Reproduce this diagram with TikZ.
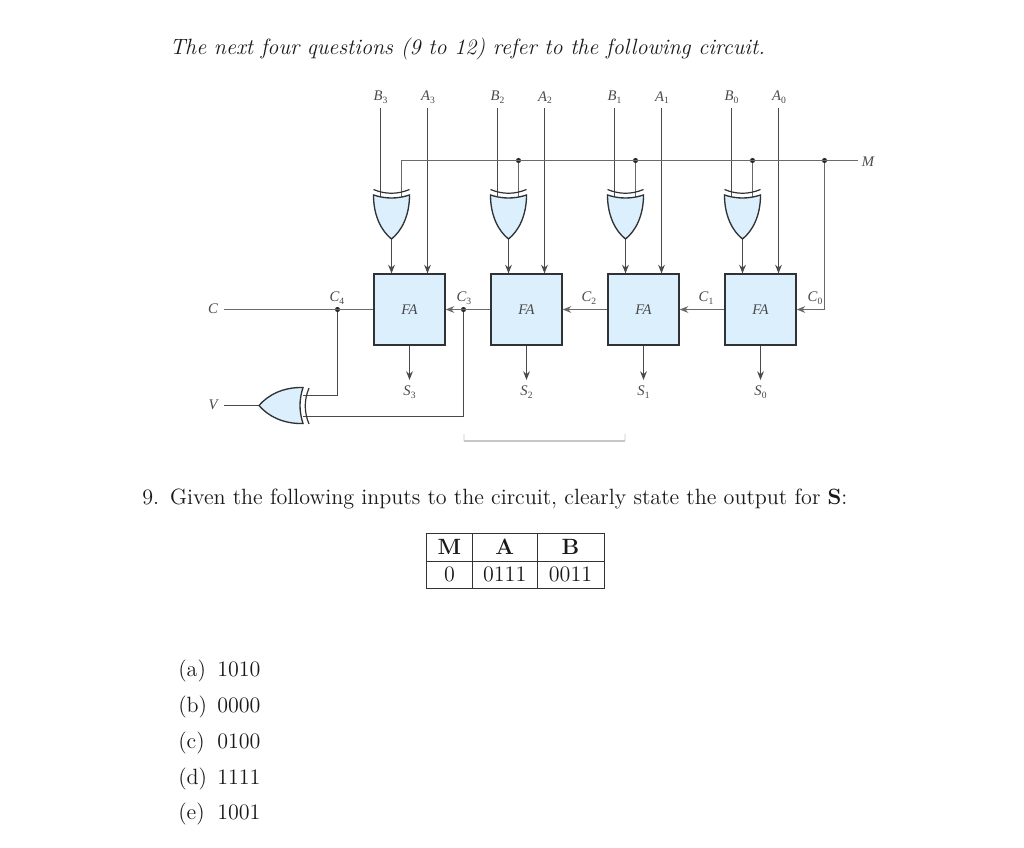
\documentclass[tikz,border=0pt]{standalone}
\usepackage{fontspec}
\usepackage{graphicx}
\usetikzlibrary{arrows.meta,calc}
\newfontfamily\cktfont{Liberation Serif}
\newcommand{\sgl}[2]{{\cktfont\itshape #1}\raisebox{-2pt}{\fontsize{7.2}{8}\selectfont\cktfont #2}}
\newcommand{\bigtext}[1]{\scalebox{1.38}{\fontsize{12}{14}\selectfont #1}}
\newcommand{\lbl}[2]{\bigtext{\makebox[21.2pt][l]{#1}#2}}
\definecolor{gatefill}{HTML}{DCEFFC}
\definecolor{inkdark}{HTML}{2F3336}
\definecolor{wire}{HTML}{4A4A4A}
\definecolor{busline}{HTML}{6A6A6A}
\tikzset{
  wireline/.style={draw=wire,line width=0.85pt},
  busw/.style={draw=busline,line width=1pt},
  arrowtip/.style={-{Stealth[length=6.5pt,width=5pt]}},
  arroww/.style={wireline,arrowtip},
  gatebody/.style={draw=inkdark,fill=gatefill,line width=1pt},
  shield/.style={draw=inkdark,line width=0.9pt},
  fabox/.style={draw=inkdark,fill=gatefill,line width=1.1pt,minimum size=53pt,inner sep=0pt,font=\cktfont\itshape\fontsize{11}{12}\selectfont,text=wire},
  cktlabel/.style={inner sep=0pt,text=wire,font=\fontsize{11}{12}\selectfont},
  jdot/.style={circle,fill=black!85,inner sep=0pt,minimum size=3.8pt},
  bodytext/.style={inner sep=0pt,anchor=base west,text=black!90},
  tablecell/.style={inner sep=0pt,anchor=base,text=black!90},
  tableline/.style={draw=black!80,line width=0.6pt}
}
\begin{document}
\begin{tikzpicture}[x=0.75pt,y=-0.75pt]
\useasboundingbox (0,0) rectangle (1024,847);
\fill[white] (0,0) rectangle (1024,847);

% bus M
\coordinate (mleft) at (401.5,160.5);
\coordinate (mright) at (858,160.5);
\node[cktlabel] (mlabel) at (868,162) {\cktfont\itshape M};

\foreach \i in {3,2,1,0}{
  \pgfmathsetmacro\cx{391.5+117*(3-\i)}
  \coordinate (g\i) at (\cx,0);
  \node[fabox] (fa\i) at (\cx+18,309.5) {FA};
  \coordinate (bt\i) at (\cx-11,108);
  \coordinate (at\i) at (\cx+36,108);
  \coordinate (bb\i) at (\cx-11,198);
  \coordinate (mb\i) at (\cx+10,198);
  \coordinate (gout\i) at (\cx,239);
  \coordinate (stip\i) at (\cx+18,380);
  \node[cktlabel] (blab\i) at (\cx-11,97.5) {\sgl{B}{\i}};
  \node[cktlabel] (alab\i) at (\cx+36.5,97.5) {\sgl{A}{\i}};
  \node[cktlabel] (slab\i) at (\cx+18,392) {\sgl{S}{\i}};
  \draw[wireline] (bt\i) -- (bb\i);
  \draw[arroww] (at\i) -- (at\i |- fa\i.north);
  \draw[arroww] (gout\i) -- (gout\i |- fa\i.north);
  \draw[arroww] (fa\i.south) -- (stip\i);
}
\node[jdot] (d2) at (mb2 |- mleft) {};
\node[jdot] (d1) at (mb1 |- mleft) {};
\node[jdot] (d0) at (mb0 |- mleft) {};
\node[jdot] (dc) at (824.5,160.5) {};
\draw[busw] (mb3) -- (mleft) -- (mright);
\draw[busw] (d2) -- (mb2);
\draw[busw] (d1) -- (mb1);
\draw[busw] (d0) -- (mb0);

% vertical XOR gates drawn on top of their wires
\foreach \i in {3,2,1,0}{
  \begin{scope}[shift={(g\i)}]
    \draw[shield] (-18,189.5) .. controls (-6,194.5) and (6,194.5) .. (18,189.5);
    \draw[gatebody] (-18,195) .. controls (-6,199) and (6,199) .. (18,195)
       .. controls (18,216) and (10,231) .. (0,239)
       .. controls (-10,231) and (-18,216) .. (-18,195) -- cycle;
  \end{scope}
}

% carries
\node[jdot] (c4dot) at (337.5,309.5) {};
\node[jdot] (c3dot) at (463.5,309.5) {};
\coordinate (cstart) at (224,309.5);
\coordinate (vstart) at (224,405.5);
\coordinate (xorin1) at (303,395.5);
\coordinate (xorin2) at (303,416.5);
\coordinate (xortip) at (259,405.5);
\coordinate (c0corner) at (dc |- fa0.east);
\node[cktlabel] (clab) at (213,309) {\cktfont\itshape C};
\node[cktlabel] (vlab) at (213,405) {\cktfont\itshape V};
\node[cktlabel] (c4lab) at (337,298) {\sgl{C}{4}};
\node[cktlabel] (c3lab) at (464,298) {\sgl{C}{3}};
\node[cktlabel] (c2lab) at (589,298) {\sgl{C}{2}};
\node[cktlabel] (c1lab) at (706,298) {\sgl{C}{1}};
\node[cktlabel] (c0lab) at (815,298) {\sgl{C}{0}};

\draw[busw] (cstart) -- (fa3.west);
\draw[busw,arrowtip] (fa2.west) -- (fa3.east);
\draw[busw,arrowtip] (fa1.west) -- (fa2.east);
\draw[busw,arrowtip] (fa0.west) -- (fa1.east);
\draw[busw] (dc) -- (c0corner);
\draw[busw,arrowtip] (c0corner) -- (fa0.east);
\draw[wireline] (c4dot) |- (xorin1);
\draw[wireline] (c3dot) |- (xorin2);
\draw[wireline] (vstart) -- (xortip);

% horizontal XOR gate
\draw[shield] (309,388) .. controls (304,400) and (304,412) .. (309,424);
\draw[gatebody] (303,387.5) .. controls (299,400) and (299,411) .. (303,423.5)
   .. controls (283,424) and (268,416) .. (259,405.5)
   .. controls (268,395) and (283,387) .. (303,387.5) -- cycle;

% stray mark
\draw[draw=black!8,line width=0.8pt] (464,434) -- (464,441);
\draw[draw=black!8,line width=0.8pt] (625,434) -- (625,441);
\draw[draw=black!22,line width=0.9pt] (464,441) -- (625,441);

% text
\node[bodytext] (title) at (169.5,54) {\bigtext{\itshape The next four questions (9 to 12) refer to the following circuit.}};
\node[bodytext] (question) at (142,504) {\bigtext{\makebox[15.2pt][l]{9.}Given the following inputs to the circuit, clearly state the output for \textbf{S}:}};

% table
\coordinate (tl) at (426.5,533.5);
\coordinate (tr) at (604,588.5);
\draw[tableline] (tl) rectangle (tr);
\draw[tableline] (426.5,561) -- (604,561);
\draw[tableline] (472.5,533.5) -- (472.5,588.5);
\draw[tableline] (537,533.5) -- (537,588.5);
\node[tablecell] (hm) at (449.5,554) {\bigtext{\textbf{M}}};
\node[tablecell] (ha) at (504.7,554) {\bigtext{\textbf{A}}};
\node[tablecell] (hb) at (570.5,554) {\bigtext{\textbf{B}}};
\node[tablecell] (vm) at (449.5,581) {\bigtext{0}};
\node[tablecell] (va) at (504.7,581) {\bigtext{0111}};
\node[tablecell] (vb) at (570.5,581) {\bigtext{0011}};

% answers
\node[bodytext] (la) at (178,676) {\lbl{(a)}{1010}};
\node[bodytext] (lb) at (178,712) {\lbl{(b)}{0000}};
\node[bodytext] (lc) at (178,748) {\lbl{(c)}{0100}};
\node[bodytext] (ld) at (178,784) {\lbl{(d)}{1111}};
\node[bodytext] (le) at (178,819) {\lbl{(e)}{1001}};
\end{tikzpicture}
\end{document}
